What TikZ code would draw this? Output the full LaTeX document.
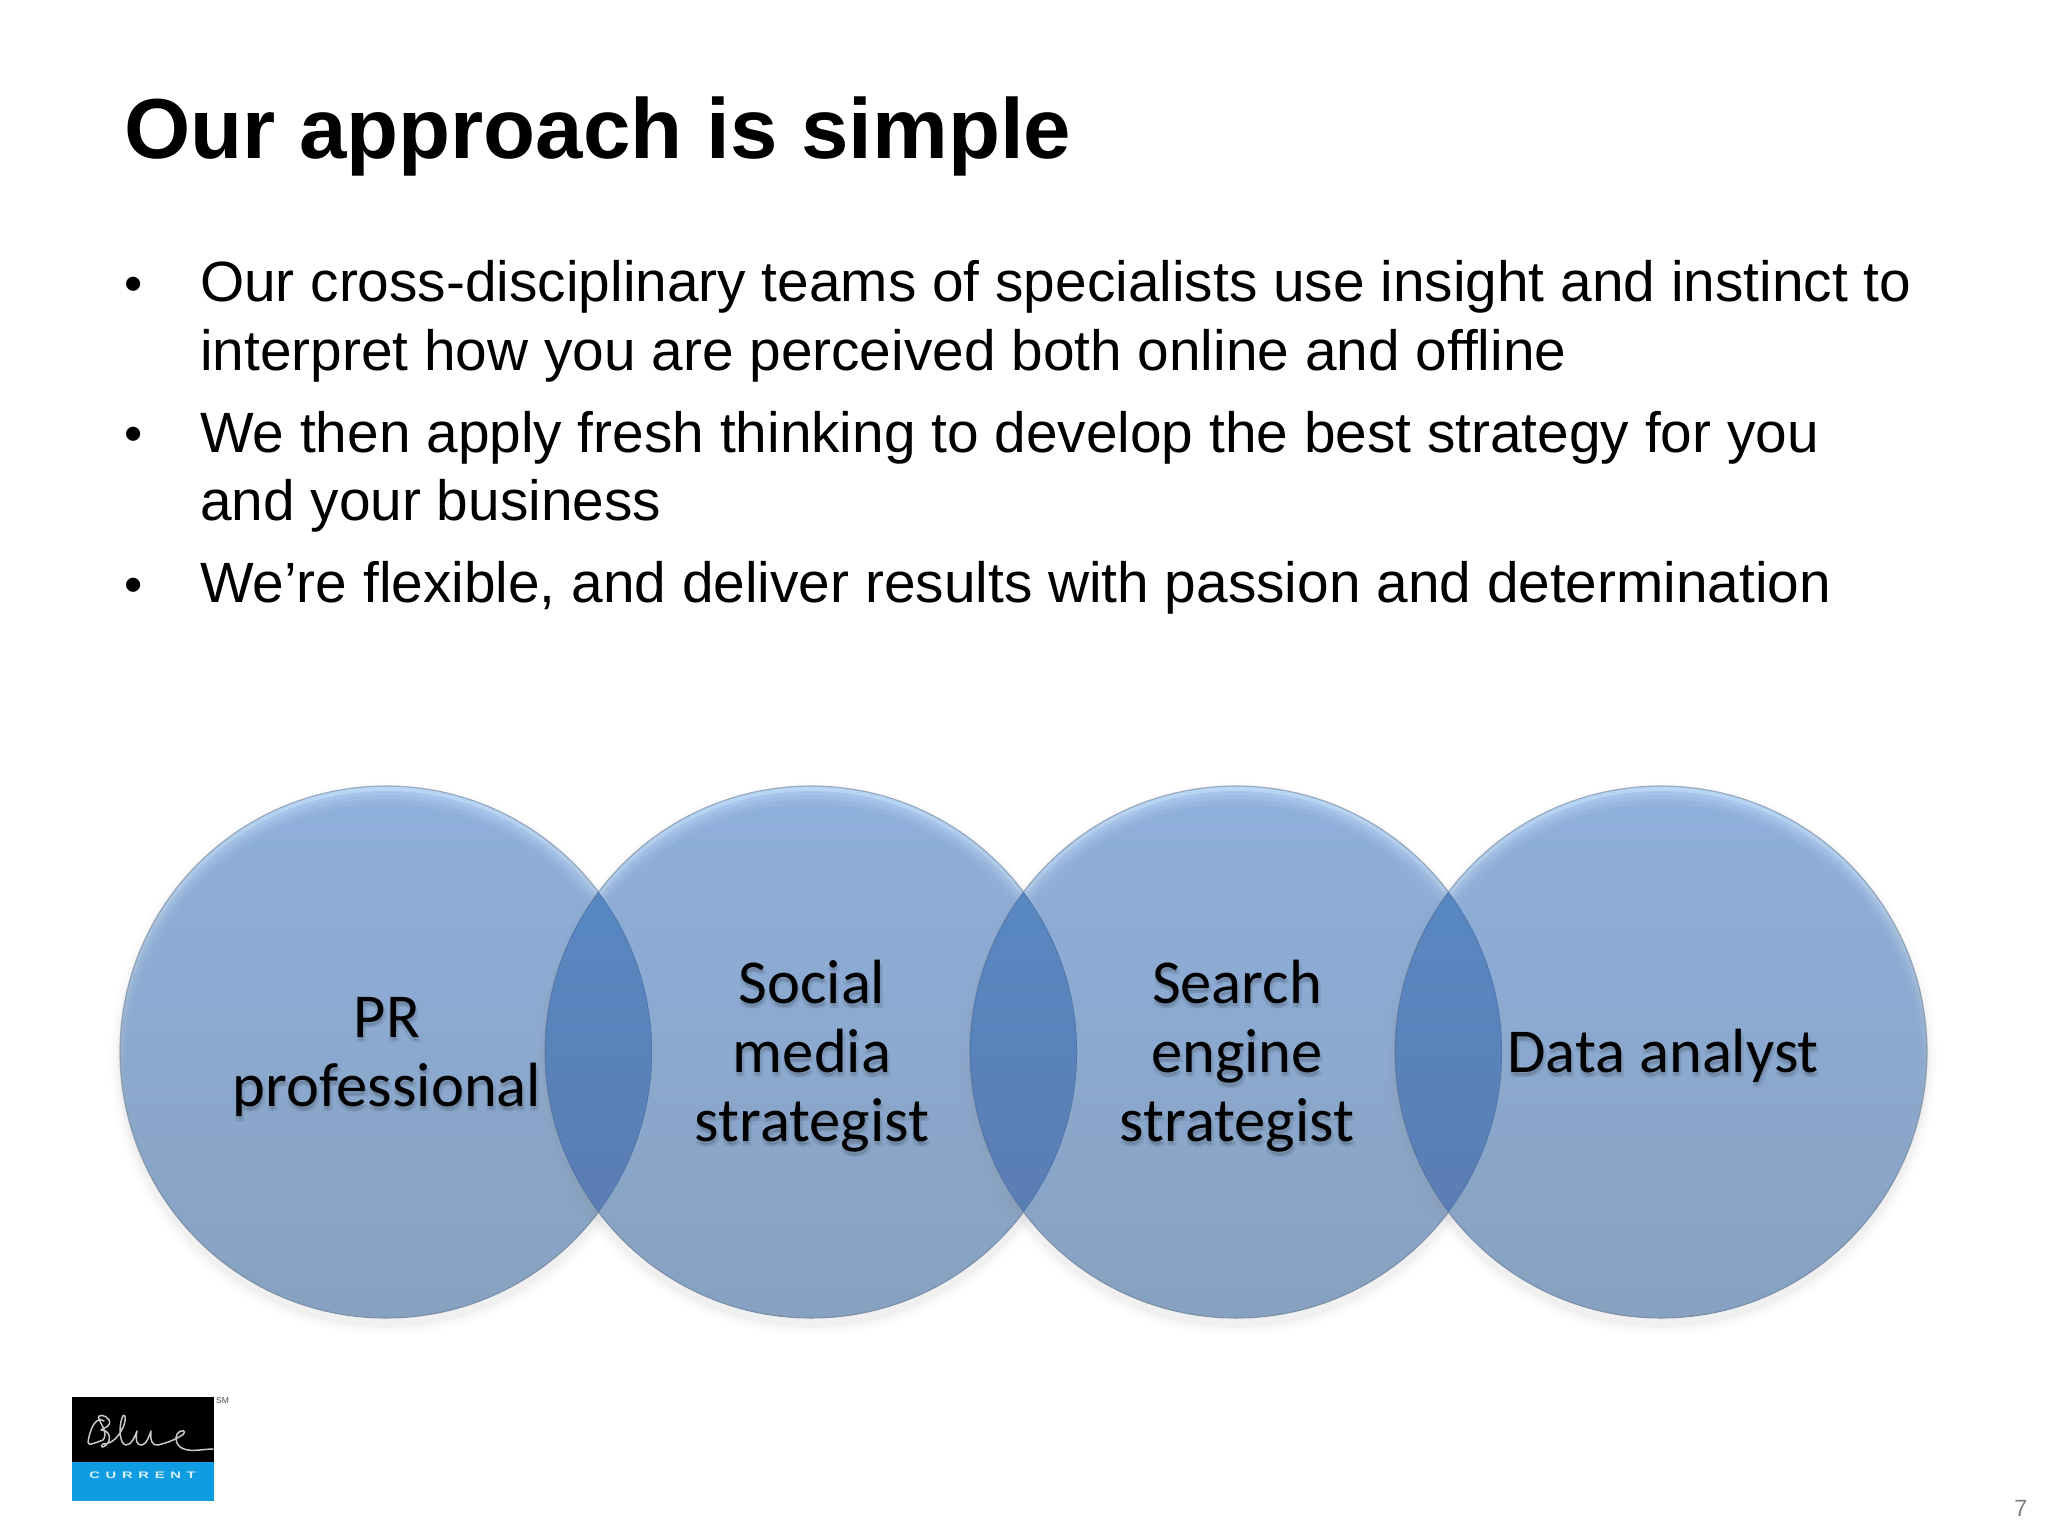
\documentclass[tikz,border=0pt]{standalone}
\usepackage{fontspec}
\setmainfont{Liberation Sans}
\newfontfamily\carl{Carlito}
\definecolor{bvtop}{HTML}{BAD6F6}
\definecolor{bvbot}{HTML}{75889C}
\definecolor{ctop}{HTML}{8FAFDC}
\definecolor{cmid}{HTML}{8BA7CF}
\definecolor{cbot}{HTML}{87A1BF}
\definecolor{ltop}{HTML}{5888C2}
\definecolor{lbot}{HTML}{5B7DB3}
\definecolor{lrim}{HTML}{4F74A6}
\definecolor{rimc}{HTML}{72849C}
\definecolor{logoblue}{HTML}{0F9CE0}
\definecolor{sigc}{HTML}{C8C8C8}
\definecolor{curc}{HTML}{D6F0FC}
\tikzset{
  titlet/.style={anchor=base west,inner sep=0,font=\fontsize{85.2}{90}\bfseries\selectfont},
  bodyt/.style={anchor=base west,inner sep=0,font=\fontsize{56.8}{60}\selectfont},
  bullt/.style={anchor=base west,inner sep=0,font=\fontsize{52}{60}\selectfont},
  labelt/.style={anchor=base,inner sep=0,font=\fontsize{62.5}{66}\carl\selectfont,text=black},
  labelsh/.style={labelt,opacity=0.07},
}
% \bub{x}: one bubble with bevel and soft shadow
\newcommand{\bub}[1]{%
  \foreach \r/\o in {276/.02,273/.025,270/.035,268/.045}{
    \fill[black!45,opacity=\o] (#1,1059) circle[radius=\r pt];
  }
  \shade[top color=bvtop,bottom color=bvbot] (#1,1052) circle[radius=266pt];
  \begin{scope}
    \clip (#1,1052) circle[radius=266pt];
    \shade[top color=ctop!45!bvtop,bottom color=cbot!55!bvbot] (#1,1055) circle[radius=264pt];
    \shade[top color=ctop!65!bvtop,bottom color=cbot!75!bvbot] (#1,1058) circle[radius=263pt];
    \shade[top color=ctop!85!bvtop,bottom color=cbot!90!bvbot] (#1,1061) circle[radius=262pt];
    \shade[top color=ctop,middle color=cmid,bottom color=cbot] (#1,1064) circle[radius=260pt];
  \end{scope}
  \draw[rimc,line width=1.2pt,opacity=.6] (#1,1052) circle[radius=266pt];
}
% \lensp{x1}{x2}: overlap of two bubbles
\newcommand{\lensp}[2]{%
  \begin{scope}
    \clip (#1,1052) circle[radius=266pt];
    \clip (#2,1052) circle[radius=266pt];
    \shade[top color=ltop,bottom color=lbot] (#1-300,880) rectangle (#2+300,1224);
    \draw[lrim,line width=1.5pt,opacity=.8] (#1,1052) circle[radius=266pt];
    \draw[lrim,line width=1.5pt,opacity=.8] (#2,1052) circle[radius=266pt];
  \end{scope}
}
\begin{document}
\begin{tikzpicture}[x=1pt,y=-1pt]
\useasboundingbox (0,0) rectangle (2048,1536);
\fill[white] (0,0) rectangle (2048,1536);

\node[titlet] (title) at (124,158) {Our approach is simple};

\node[bullt] (b1) at (124,301) {•};
\node[bodyt] (l1) at (200,301.5) {Our cross-disciplinary teams of specialists use insight and instinct to};
\node[bodyt] (l2) at (200,370) {interpret how you are perceived both online and offline};
\node[bullt] (b2) at (124,451.5) {•};
\node[bodyt] (l3) at (200,452) {We then apply fresh thinking to develop the best strategy for you};
\node[bodyt] (l4) at (200,520) {and your business};
\node[bullt] (b3) at (124,602) {•};
\node[bodyt] (l5) at (200,602.5) {We’re flexible, and deliver results with passion and determination};

\bub{386}
\bub{811}
\bub{1236}
\bub{1661}
\lensp{386}{811}
\lensp{811}{1236}
\lensp{1236}{1661}

% labels, each with a faint offset shadow
\foreach \n/\x/\y/\t in {a1/387/1037/PR,a2/387/1106/professional,
  b1x/812/1003/Social,b2x/812/1072/media,b3x/812/1141/strategist,
  c1/1237/1003/Search,c2/1237/1072/engine,c3/1237/1141/strategist,
  d1/1663/1072/Data analyst}{
  \node[labelsh] (\n s1) at (\x+1,\y+3) {\t};
  \node[labelsh] (\n s2) at (\x+3,\y+5) {\t};
  \node[labelsh] (\n s3) at (\x-1,\y+5) {\t};
  \node[labelt] (\n) at (\x,\y) {\t};
}

% logo
\fill[black] (72,1397) rectangle (214,1462);
\fill[logoblue] (72,1462) rectangle (214,1501);
\draw[sigc,line width=1.5pt,line cap=round,line join=round]
  (104,1421) .. controls (96,1416) and (91,1428) .. (89,1437)
  .. controls (87,1446) .. (103,1440)
  .. controls (108,1434) and (102,1426) .. (99,1419)
  .. controls (96,1414) and (106,1414) .. (109,1420)
  .. controls (112,1426) and (104,1428) .. (101,1430)
  .. controls (110,1430) and (112,1440) .. (106,1445)
  .. controls (102,1449) and (100,1446) .. (103,1444)
  .. controls (108,1444) and (117,1442) .. (124,1425)
  .. controls (127,1416) and (124,1412) .. (122,1418)
  .. controls (119,1426) and (119,1444) .. (126,1445)
  .. controls (132,1445) and (135,1436) .. (137,1431)
  .. controls (135,1440) and (137,1446) .. (142,1445)
  .. controls (147,1444) and (149,1436) .. (151,1431)
  .. controls (150,1440) and (152,1446) .. (158,1445)
  .. controls (166,1443) and (172,1441) .. (179,1437)
  .. controls (187,1433) and (185,1430) .. (181,1431)
  .. controls (174,1433) and (174,1446) .. (184,1449)
  .. controls (192,1452) and (204,1449) .. (213,1449);
\node[inner sep=0,text=curc,xscale=1.55,font=\fontsize{9.5}{10}\bfseries\selectfont] (cur) at (142.5,1475) {C\hspace{3.7pt}U\hspace{3.7pt}R\hspace{3.7pt}R\hspace{3.7pt}E\hspace{3.7pt}N\hspace{3.7pt}T};
\node[anchor=west,inner sep=0,text=black!70,font=\fontsize{8.5}{9}\selectfont] (sm) at (216,1401) {SM};
\node[anchor=base,inner sep=0,text=black!50,font=\fontsize{23.5}{25}\selectfont] (pg) at (2021,1516) {7};
\end{tikzpicture}
\end{document}
